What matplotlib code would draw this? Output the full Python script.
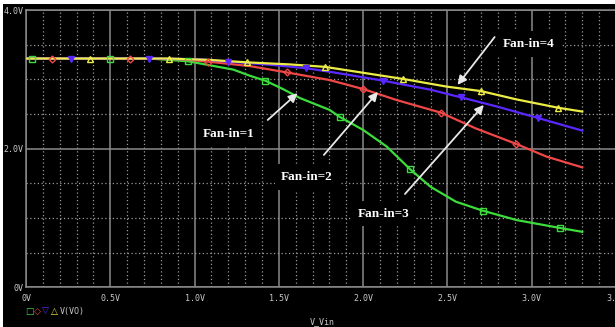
import matplotlib
matplotlib.use("Agg")
import matplotlib.pyplot as plt
from matplotlib.patches import Rectangle
import numpy as np

# curve data (Vin, VO) in volts
vin_1 = [0.0, 0.036, 0.498, 0.735, 0.961, 1.03, 1.23, 1.33, 1.42, 1.524, 1.625, 1.80,
         1.86, 2.00, 2.14, 2.28, 2.40, 2.55, 2.71, 2.91, 3.17, 3.30]
vo_1 = [3.30, 3.30, 3.30, 3.30, 3.26, 3.23, 3.14, 3.05, 2.98, 2.86, 2.73, 2.56,
        2.46, 2.27, 2.03, 1.70, 1.45, 1.235, 1.105, 0.97, 0.855, 0.80]
mk_1 = [1, 2, 4, 8, 12, 15, 18, 20]

vin_2 = [0.0, 0.154, 0.617, 0.913, 1.08, 1.33, 1.546, 1.80, 2.00, 2.20, 2.46, 2.67,
         2.906, 3.088, 3.30]
vo_2 = [3.30, 3.30, 3.30, 3.29, 3.255, 3.19, 3.10, 2.99, 2.86, 2.70, 2.52, 2.29,
        2.07, 1.885, 1.73]
mk_2 = [1, 2, 4, 6, 8, 10, 12]

vin_3 = [0.0, 0.267, 0.730, 1.03, 1.198, 1.45, 1.66, 1.80, 2.12, 2.40, 2.58, 2.79,
         3.04, 3.30]
vo_3 = [3.30, 3.30, 3.30, 3.29, 3.255, 3.21, 3.16, 3.11, 2.98, 2.85, 2.74, 2.61,
        2.44, 2.26]
mk_3 = [1, 2, 4, 6, 8, 10, 12]

vin_4 = [0.0, 0.38, 0.848, 1.09, 1.31, 1.566, 1.773, 2.238, 2.495, 2.70, 2.91,
         3.157, 3.30]
vo_4 = [3.30, 3.30, 3.30, 3.28, 3.245, 3.215, 3.18, 3.005, 2.895, 2.83, 2.71,
        2.59, 2.535]
mk_4 = [1, 2, 4, 6, 7, 9, 11]

x_ticks = [0, 0.5, 1.0, 1.5, 2.0, 2.5, 3.0, 3.5]
x_labels = ["0V", "0.5V", "1.0V", "1.5V", "2.0V", "2.5V", "3.0V", "3.5V"]
y_ticks = [0, 2, 4]
y_labels = ["0V", "2.0V", "4.0V"]

# (label, text position, arrow tail, arrow tip)
notes = [
    ("Fan-in=1", (1.20, 2.21), (1.434, 2.414), (1.611, 2.80)),
    ("Fan-in=2", (1.667, 1.59), (1.767, 1.909), (2.088, 2.818)),
    ("Fan-in=3", (2.12, 1.06), (2.248, 1.346), (2.716, 2.631)),
    ("Fan-in=4", (2.98, 3.51), (2.78, 3.61), (2.56, 2.92)),
]

fig = plt.figure(figsize=(6.15, 3.27), dpi=100, facecolor="white")
fig.add_artist(Rectangle((3 / 615, 0), 1, 323 / 327, transform=fig.transFigure,
                         facecolor="black", edgecolor="none", zorder=-10))

ax = fig.add_axes([26 / 615, 39.7 / 327, 590 / 615, 277.3 / 327])
ax.set_facecolor("black")
ax.set_xlim(0, 3.5)
ax.set_ylim(0, 4)

grid_c = "#8a8a8a"
ax.set_xticks(x_ticks)
ax.set_xticklabels(x_labels)
ax.set_xticks(np.arange(0, 3.51, 0.1), minor=True)
ax.set_yticks(y_ticks)
ax.set_yticklabels(y_labels)
ax.set_yticks(np.arange(0, 4.01, 0.5), minor=True)
ax.grid(which="major", color=grid_c, lw=1.1, ls="-")
ax.grid(which="minor", color="#9a9a9a", lw=0.9, ls=(0, (1, 2)))
ax.set_axisbelow(True)
ax.tick_params(which="both", length=0, colors="#c8c8c8", labelsize=6)
ax.tick_params(axis="x", pad=5)
ax.tick_params(axis="y", pad=2)
for lab in ax.get_xticklabels() + ax.get_yticklabels():
    lab.set_family("DejaVu Sans Mono")
for s in ["left", "top", "bottom"]:
    ax.spines[s].set_color(grid_c)
    ax.spines[s].set_linewidth(1.1)
ax.spines["right"].set_visible(False)

series = [
    (vin_1, vo_1, mk_1, "#3cdc3c", "s", "none"),
    (vin_2, vo_2, mk_2, "#f04848", "D", "none"),
    (vin_3, vo_3, mk_3, "#5a28ff", "v", "#5a28ff"),
    (vin_4, vo_4, mk_4, "#ecec46", "^", "none"),
]
for x, y, mk, c, m, fc in series:
    ax.plot(x, y, color=c, lw=1.6, zorder=4)
for x, y, mk, c, m, fc in series:
    ax.plot([x[i] for i in mk], [y[i] for i in mk], ls="none", marker=m,
            ms=4.5 if m != "D" else 3.5, mec=c, mfc=fc, mew=1.0, zorder=5)

for label, txt, tail, tip in notes:
    ax.text(txt[0], txt[1], label, color="white", ha="center", va="center",
            family="Liberation Serif", fontsize=9.5, fontweight="bold", zorder=3,
            bbox=dict(boxstyle="square,pad=0.5", fc="black", ec="none"))
    ax.annotate("", xy=tip, xytext=tail, zorder=6,
                arrowprops=dict(arrowstyle="-|>", color="#e8e8e8", lw=1.3,
                                mutation_scale=13, shrinkA=0, shrinkB=0))

# legend row and axis title
sym_x = [29.5, 37.5, 45.5, 54]
sym = ["\u25a1", "\u25c7", "\u25bd", "\u25b3"]
sym_c = ["#3cdc3c", "#f04848", "#5a28ff", "#ecec46"]
for px, s, c in zip(sym_x, sym, sym_c):
    fig.text(px / 615, (327 - 311.5) / 327, s, color=c, fontsize=6.5,
             ha="center", va="center")
fig.text(60 / 615, (327 - 311.5) / 327, "V(VO)", color="#c8c8c8", fontsize=6,
         family="DejaVu Sans Mono", ha="left", va="center")
fig.text(322 / 615, (327 - 322) / 327, "V_Vin", color="#c8c8c8", fontsize=6,
         family="DejaVu Sans Mono", ha="center", va="center")

fig.savefig("out.png", dpi=100, facecolor=fig.get_facecolor())
